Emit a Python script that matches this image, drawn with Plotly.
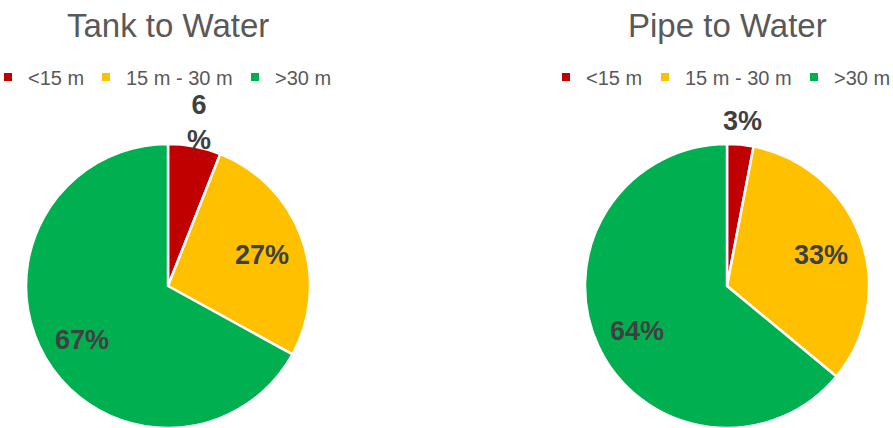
import math
import plotly.graph_objects as go

# Distance bands and share of samples (%) in each band
bands = ["<15 m", "15 m - 30 m", ">30 m"]
tank_share = [6, 27, 67]
pipe_share = [3, 33, 64]
band_colors = ["#C00000", "#FFC000", "#00B050"]

W, H = 893, 428
font_family = "Liberation Sans, Arial, sans-serif"
grey = "#595959"
label_grey = "#404040"

PIE_TOP = 144                 # px from top of page to top of the pies
R = (H - PIE_TOP) / 2         # pie radius in px
CY = PIE_TOP + R              # pie centre, px from top

# left edge (px) of the text of each legend entry, per chart
legend_text_x = {"tank": [26, 124, 273], "pipe": [584, 683, 832]}

fig = go.Figure()
layout_legends = {}


def add_pie(key, values, cx, label_fmt, first_legend):
    fig.add_trace(go.Pie(
        labels=bands,
        values=values,
        sort=False,
        direction="clockwise",
        rotation=0,
        marker=dict(colors=band_colors, line=dict(color="white", width=2.5)),
        textinfo="none",
        domain=dict(x=[(cx - R) / W, (cx + R) / W], y=[0, 1 - PIE_TOP / H]),
        showlegend=False,
        hoverinfo="label+value",
    ))

    # data labels: inside for large slices, just beyond the rim for small ones
    total = sum(values)
    cum = 0
    for v, fmt in zip(values, label_fmt):
        mid = (cum + v / 2) / total * 2 * math.pi
        cum += v
        small = v / total < 0.1
        k = 1.17 if small else 0.70
        px = cx + k * R * math.sin(mid)
        py = CY - k * R * math.cos(mid) + (0 if small else 3)
        fig.add_annotation(
            text=fmt.format(v), x=px / W, y=1 - py / H,
            xref="paper", yref="paper", xanchor="center", yanchor="middle",
            showarrow=False,
            font=dict(family=font_family, size=27, color=label_grey, weight="bold"),
        )

    # legend: one entry per band, each in its own legend box
    for i, (band, color) in enumerate(zip(bands, band_colors)):
        n = first_legend + i
        lid = "legend" if n == 1 else f"legend{n}"
        fig.add_trace(go.Scatter(
            x=[None], y=[None], mode="markers", name=band,
            marker=dict(symbol="square", size=8, color=color),
            legend=lid, showlegend=True, hoverinfo="skip",
        ))
        layout_legends[lid] = dict(
            x=(legend_text_x[key][i] - 38) / W,
            y=1 - 77 / H,
            xanchor="left",
            yanchor="middle",
            orientation="h",
            font=dict(family=font_family, size=20, color=grey),
            bgcolor="rgba(0,0,0,0)",
            itemclick=False,
            itemdoubleclick=False,
        )


add_pie("tank", tank_share, 168, ["{}<br>%", "{}%", "{}%"], 1)
add_pie("pipe", pipe_share, 727, ["{}%", "{}%", "{}%"], 4)

titles = [("Tank to Water", 168), ("Pipe to Water", 727)]
for text, cx in titles:
    fig.add_annotation(
        text=text, x=cx / W, y=1 - 25 / H, xref="paper", yref="paper",
        xanchor="center", yanchor="middle", showarrow=False,
        font=dict(family=font_family, size=33, color=grey),
    )

fig.update_layout(
    width=W, height=H,
    margin=dict(l=0, r=0, t=0, b=0, autoexpand=False),
    paper_bgcolor="white",
    plot_bgcolor="white",
    xaxis=dict(visible=False),
    yaxis=dict(visible=False),
    showlegend=True,
    **layout_legends,
)

fig.write_html("out.html")
